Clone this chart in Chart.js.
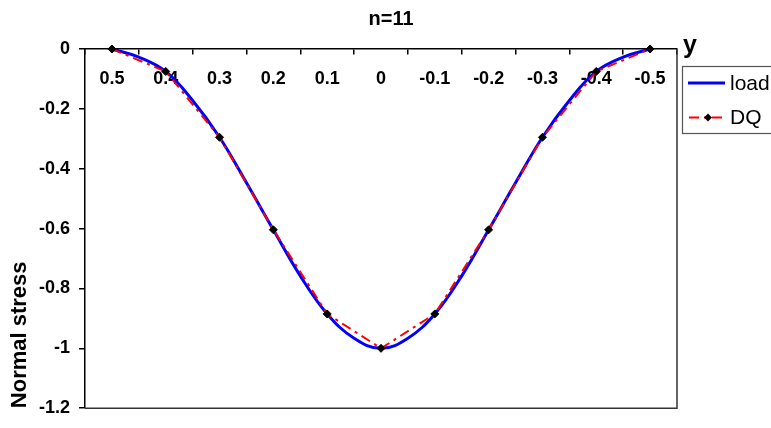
<!DOCTYPE html>
<html>
<head>
<meta charset="utf-8">
<script src="https://cdn.jsdelivr.net/npm/chart.js@4/dist/chart.umd.min.js"></script>
<style>
  body { margin: 0; background: #fff; }
  #wrap { width: 771px; height: 428px; }
</style>
</head>
<body>
<div id="wrap"><canvas id="stress-chart" width="771" height="428"></canvas></div>
<script>
// DQ nodes (y position across the section) and normal stress
var yLabels = ['0.5', '0.4', '0.3', '0.2', '0.1', '0', '-0.1', '-0.2', '-0.3', '-0.4', '-0.5'];
var dqY = [0.5, 0.4, 0.3, 0.2, 0.1, 0, -0.1, -0.2, -0.3, -0.4, -0.5];
var dqStress = [0, -0.075, -0.295, -0.604, -0.885, -1, -0.885, -0.604, -0.295, -0.075, 0];

var loadY = [0.5, 0.45, 0.4, 0.35, 0.3, 0.25, 0.2, 0.15, 0.1, 0.05, 0,
             -0.05, -0.1, -0.15, -0.2, -0.25, -0.3, -0.35, -0.4, -0.45, -0.5];
var loadStress = [0, -0.027, -0.075, -0.172, -0.295, -0.447, -0.604, -0.758, -0.885, -0.966, -1,
                  -0.966, -0.885, -0.758, -0.604, -0.447, -0.295, -0.172, -0.075, -0.027, 0];

var FONT = "'Liberation Sans', Arial, sans-serif";

function pts(xs, ys) {
  var out = [];
  for (let i = 0; i < xs.length; i++) out.push({x: xs[i], y: ys[i]});
  return out;
}

var frameAndLegend = {
  id: 'frameAndLegend',
  beforeDatasetsDraw: function(chart) {
    var ctx = chart.ctx, a = chart.chartArea;
    ctx.save();
    ctx.strokeStyle = '#333';
    ctx.lineWidth = 1.5;
    ctx.beginPath();
    ctx.moveTo(a.left, a.bottom);
    ctx.lineTo(a.right, a.bottom);
    ctx.lineTo(a.right, a.top);
    ctx.stroke();
    ctx.restore();
  },
  afterDraw: function(chart) {
    var ctx = chart.ctx, a = chart.chartArea;
    var ds = chart.data.datasets;
    var lx = a.right + 5, ly = 66;
    ctx.save();
    // axis name at the top right
    ctx.fillStyle = '#000';
    ctx.font = 'bold 25px ' + FONT;
    ctx.textBaseline = 'alphabetic';
    ctx.fillText('y', a.right + 6, 53);

    // legend box
    ctx.strokeStyle = '#555';
    ctx.lineWidth = 1.2;
    ctx.strokeRect(lx + 0.5, ly + 0.5, 120, 67);

    ctx.font = '21px ' + FONT;
    ctx.textBaseline = 'middle';
    // load
    ctx.strokeStyle = ds[0].borderColor;
    ctx.lineWidth = ds[0].borderWidth;
    ctx.beginPath();
    ctx.moveTo(lx + 6, ly + 17);
    ctx.lineTo(lx + 43, ly + 17);
    ctx.stroke();
    ctx.fillStyle = '#000';
    ctx.fillText(ds[0].label, lx + 48, ly + 18);
    // DQ
    ctx.strokeStyle = ds[1].borderColor;
    ctx.lineWidth = ds[1].borderWidth;
    ctx.setLineDash(ds[1].borderDash);
    ctx.beginPath();
    ctx.moveTo(lx + 7, ly + 51.5);
    ctx.lineTo(lx + 43, ly + 51.5);
    ctx.stroke();
    ctx.setLineDash([]);
    ctx.fillStyle = ds[1].pointBackgroundColor;
    ctx.beginPath();
    ctx.moveTo(lx + 26, ly + 47.5);
    ctx.lineTo(lx + 30, ly + 51.5);
    ctx.lineTo(lx + 26, ly + 55.5);
    ctx.lineTo(lx + 22, ly + 51.5);
    ctx.closePath();
    ctx.fill();
    ctx.fillStyle = '#000';
    ctx.fillText(ds[1].label, lx + 48, ly + 52);
    ctx.restore();
  }
};

new Chart(document.getElementById('stress-chart'), {
  type: 'line',
  data: {
    datasets: [
      {
        label: 'load',
        data: pts(loadY, loadStress),
        borderColor: '#0000ff',
        borderWidth: 3,
        pointRadius: 0,
        tension: 0.4,
        fill: false,
        clip: 5,
        order: 2
      },
      {
        label: 'DQ',
        data: pts(dqY, dqStress),
        borderColor: '#ff0000',
        borderWidth: 2,
        borderDash: [10, 5, 3, 5],
        pointStyle: 'rectRot',
        pointRadius: 4,
        pointBackgroundColor: '#000',
        pointBorderColor: '#000',
        pointBorderWidth: 1,
        tension: 0,
        fill: false,
        clip: 6,
        order: 1
      }
    ]
  },
  plugins: [frameAndLegend],
  options: {
    responsive: false,
    animation: false,
    layout: {
      padding: {left: 11, right: 0, bottom: 12, top: 0}
    },
    plugins: {
      legend: { display: false },
      tooltip: { enabled: false },
      title: {
        display: true,
        text: 'n=11',
        color: '#000',
        font: { family: FONT, size: 20, weight: 'bold' },
        padding: { top: 7, bottom: 18 }
      }
    },
    scales: {
      x: {
        type: 'linear',
        display: false,
        min: -0.55,
        max: 0.55,
        reverse: true
      },
      xc: {
        type: 'category',
        labels: yLabels,
        offset: true,
        position: { y: 0 },
        grid: {
          offset: true,
          drawOnChartArea: false,
          drawTicks: true,
          tickLength: 5,
          color: '#000',
          lineWidth: 1.5
        },
        border: { display: true, color: '#000', width: 1.5 },
        ticks: {
          color: '#000',
          padding: 14,
          maxRotation: 0,
          autoSkip: false,
          font: { family: FONT, size: 18, weight: 'bold' }
        }
      },
      y: {
        type: 'linear',
        min: -1.2,
        max: 0,
        afterFit: function(scale) { scale.width = 74; },
        grid: {
          drawOnChartArea: false,
          drawTicks: true,
          tickLength: 6,
          color: '#000',
          lineWidth: 1.5
        },
        border: { display: true, color: '#000', width: 1.5 },
        ticks: {
          stepSize: 0.2,
          color: '#000',
          padding: 9,
          font: { family: FONT, size: 18, weight: 'bold' },
          callback: function(v) { return String(Math.round(v * 10) / 10); }
        },
        title: {
          display: true,
          text: 'Normal stress',
          align: 'start',
          color: '#000',
          padding: { top: -4 },
          font: { family: FONT, size: 22, weight: 'bold' }
        }
      },
      // empty right-hand axis only reserves the room for the legend
      yr: {
        type: 'linear',
        position: 'right',
        min: -1.2,
        max: 0,
        afterFit: function(scale) { scale.width = 94; },
        grid: { display: false },
        border: { display: false },
        ticks: { display: false }
      }
    }
  }
});
</script>
</body>
</html>
